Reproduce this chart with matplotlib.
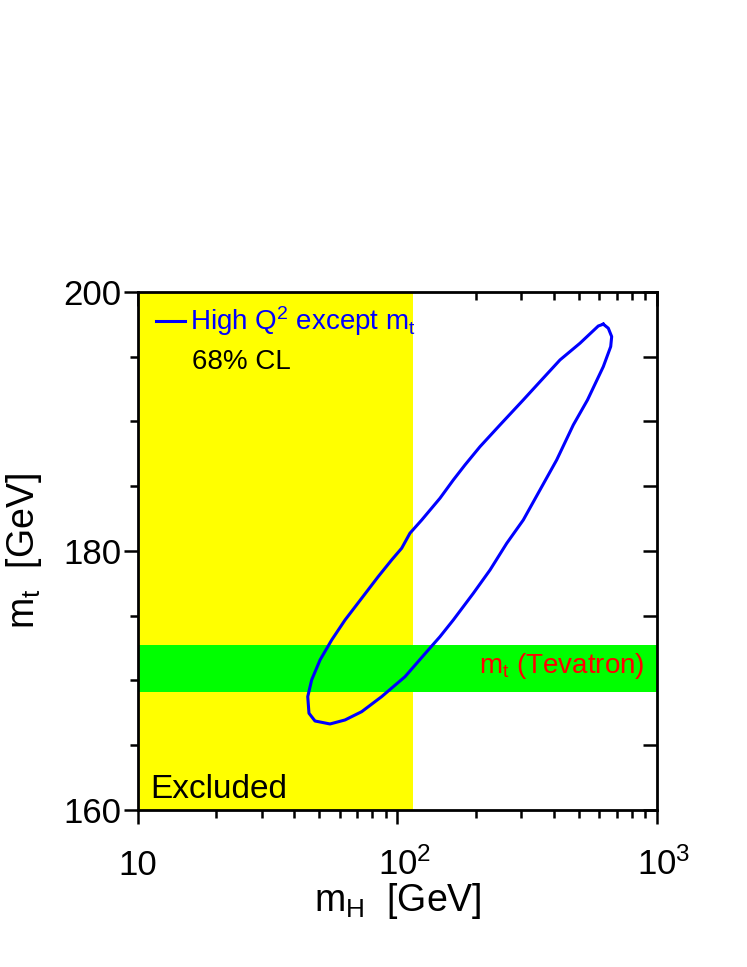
import numpy as np
import matplotlib
matplotlib.use("Agg")
import matplotlib.pyplot as plt
from matplotlib.ticker import FixedLocator, NullFormatter
from matplotlib.transforms import ScaledTranslation

plt.rcParams["font.family"] = ["Liberation Sans", "DejaVu Sans"]
plt.rcParams["mathtext.fontset"] = "custom"
plt.rcParams["mathtext.rm"] = "Liberation Sans"
plt.rcParams["mathtext.it"] = "Liberation Sans"
plt.rcParams["mathtext.bf"] = "Liberation Sans:bold"

# 68% CL contour, high Q^2 data except m_t  (mH [GeV], mt [GeV])
mh_contour = [621.0, 649.2, 669.0, 663.2, 621.0, 539.8, 475.9, 410.7, 354.1, 305.3,
              263.6, 227.3, 196.0, 164.1, 145.8, 131.5, 106.9, 86.9, 72.8, 62.8,
              54.95, 48.1, 45.6, 45.1, 46.7, 50.3, 55.8, 62.8, 72.8, 84.3,
              95.0, 103.8, 111.7, 124.0, 145.8, 164.1, 182.0, 207.9, 248.3, 305.3,
              354.1, 422.9, 505.0, 594.0, 621.0]
mt_contour = [197.51, 197.20, 196.55, 195.78, 194.23, 191.66, 189.73, 187.03, 184.71, 182.39,
              180.59, 178.53, 176.73, 174.67, 173.38, 172.36, 170.29, 168.75, 167.59, 166.95,
              166.64, 166.87, 167.47, 168.75, 170.04, 171.58, 173.13, 174.67, 176.35, 178.02,
              179.31, 180.21, 181.37, 182.39, 184.07, 185.48, 186.64, 188.05, 189.73, 191.66,
              193.07, 194.75, 196.04, 197.37, 197.51]

# direct search limit and Tevatron top mass band
mh_excluded = 114.4
mt_tevatron = 170.9
mt_tevatron_err = 1.8

xlim = (10, 1000)
ylim = (160, 200)
x_major = [10, 100, 1000]
x_major_labels = ["10", r"$10^{2}$", r"$10^{3}$"]
x_minor = [20, 30, 40, 50, 60, 70, 80, 90, 200, 300, 400, 500, 600, 700, 800, 900]
y_major = [160, 180, 200]
y_minor = [165, 170, 175, 185, 190, 195]

pos = [0.1847, 0.1624, 0.6948, 0.5357]
fig = plt.figure(figsize=(7.47, 9.67), dpi=100)

# background axes only for the inward ticks on top / right (covered by the bands)
bg = fig.add_axes(pos, zorder=0)
bg.set_xscale("log")
bg.set_xlim(*xlim)
bg.set_ylim(*ylim)
bg.xaxis.set_major_locator(FixedLocator(x_major))
bg.xaxis.set_minor_locator(FixedLocator(x_minor))
bg.xaxis.set_major_formatter(NullFormatter())
bg.xaxis.set_minor_formatter(NullFormatter())
bg.yaxis.set_major_locator(FixedLocator(y_major + y_minor))
bg.yaxis.set_major_formatter(NullFormatter())
bg.tick_params(which="both", direction="in", width=1.8, bottom=False, left=False,
               top=True, right=True, labelbottom=False, labelleft=False)
bg.tick_params(which="major", length=10)
bg.tick_params(which="minor", length=6)
for s in bg.spines.values():
    s.set_visible(False)

ax = fig.add_axes(pos, zorder=1)
ax.patch.set_visible(False)
ax.set_xscale("log")
ax.set_xlim(*xlim)
ax.set_ylim(*ylim)

ax.axvspan(xlim[0], mh_excluded, color="#ffff00", lw=0, zorder=1)
ax.axhspan(mt_tevatron - mt_tevatron_err, mt_tevatron + mt_tevatron_err,
           color="#00ff00", lw=0, zorder=1.1)
ax.plot(mh_contour, mt_contour, color="#0000ff", lw=2.2, zorder=4,
        solid_joinstyle="round", label=r"High Q$^{2}$ except m$_{t}$")

for s in ax.spines.values():
    s.set_linewidth(2)
    s.set_zorder(5)

ax.xaxis.set_major_locator(FixedLocator(x_major))
ax.xaxis.set_minor_locator(FixedLocator(x_minor))
ax.set_xticklabels(x_major_labels)
ax.xaxis.set_minor_formatter(NullFormatter())
ax.yaxis.set_major_locator(FixedLocator(y_major))
ax.yaxis.set_minor_locator(FixedLocator(y_minor))
ax.tick_params(which="both", direction="out", width=1.8, top=False, right=False,
               labelsize=25)
ax.tick_params(which="major", length=10)
ax.tick_params(which="minor", length=6)
ax.tick_params(axis="x", which="major", pad=37)
ax.tick_params(axis="y", which="major", pad=2)
xlabels = ax.get_xticklabels()
plt.setp(xlabels, va="baseline")
# keep the mantissa "10" centred on the tick, exponent hangs to the right
for lab in xlabels[1:]:
    lab.set_transform(lab.get_transform() + ScaledTranslation(5 / 72, 0, fig.dpi_scale_trans))

ax.set_xlabel(r"m$_{\rm H}$  [GeV]", fontsize=27, labelpad=-1)
ax.set_ylabel(r"m$_{\rm t}$  [GeV]", fontsize=27, labelpad=14)

leg = ax.legend(loc="upper left", bbox_to_anchor=(0.01, 1.0), frameon=False, fontsize=20,
                handlelength=1.05, handletextpad=0.2, borderaxespad=0.05,
                labelcolor="#0000ff")
leg.set_zorder(6)
ax.text(0.104, 0.865, "68% CL", transform=ax.transAxes, fontsize=20,
        va="center", ha="left", zorder=6)
ax.text(0.023, 0.04, "Excluded", transform=ax.transAxes, fontsize=24,
        va="center", ha="left", zorder=6)
ax.text(0.977, mt_tevatron + 0.2, r"m$_{\rm t}$ (Tevatron)", transform=ax.get_yaxis_transform(),
        fontsize=20, color="#ff0000", va="center", ha="right", zorder=6)

fig.savefig("out.png", dpi=100)
